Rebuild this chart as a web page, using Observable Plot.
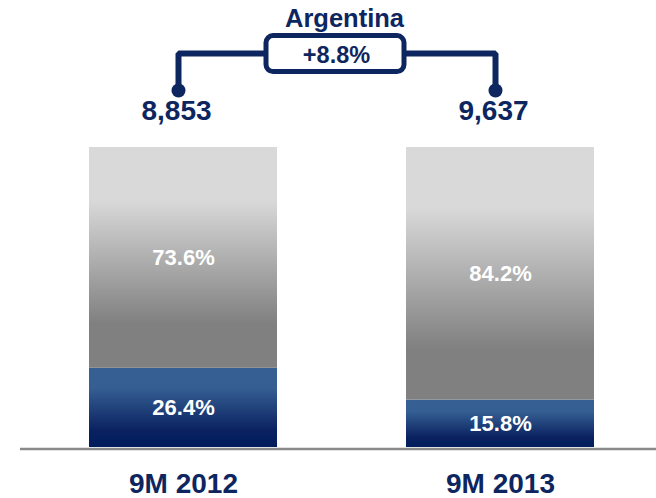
<!DOCTYPE html>
<html>
<head>
<meta charset="utf-8">
<script src="https://cdn.jsdelivr.net/npm/d3@7"></script>
<script src="https://cdn.jsdelivr.net/npm/@observablehq/plot@0.6"></script>
<style>
  html, body { margin: 0; padding: 0; background: #ffffff; }
</style>
</head>
<body>
<div id="chart"></div>
<script>
// ---- data ----
const periods = ["9M 2012", "9M 2013"];
const totals = [8853, 9637];
const lowerShare = [26.4, 15.8];   // blue segment (%)
const upperShare = [73.6, 84.2];   // gray segment (%)
const regionLabel = ["Argentina"];
const growthLabel = ["+8.8%"];

// ---- table built from the arrays ----
const rows = [];
periods.forEach((p, i) => {
  rows.push({period: p, segment: "lower", share: lowerShare[i]});
  rows.push({period: p, segment: "upper", share: upperShare[i]});
});
const totalRows = periods.map((p, i) => ({period: p, total: totals[i]}));

// ---- annotation layout (in y-scale units) ----
const yDot = 119;
const yBracket = 131.3;
const yTitle = 142.8;
const bracketPath = [
  {period: periods[0], y: yDot},
  {period: periods[0], y: yBracket},
  {period: periods[1], y: yBracket},
  {period: periods[1], y: yDot}
];

const navy = "#0e2660";
const font = "'Liberation Sans', Arial, Helvetica, sans-serif";

// rounded-rectangle symbol for the growth box
const roundedBox = {
  draw(ctx) {
    const w = 138, h = 36, r = 7;
    const x0 = -w / 2, y0 = -h / 2, x1 = w / 2, y1 = h / 2;
    ctx.moveTo(x0 + r, y0);
    ctx.lineTo(x1 - r, y0);
    ctx.arcTo(x1, y0, x1, y0 + r, r);
    ctx.lineTo(x1, y1 - r);
    ctx.arcTo(x1, y1, x1 - r, y1, r);
    ctx.lineTo(x0 + r, y1);
    ctx.arcTo(x0, y1, x0, y1 - r, r);
    ctx.lineTo(x0, y0 + r);
    ctx.arcTo(x0, y0, x0 + r, y0, r);
    ctx.closePath();
  }
};

const plot = Plot.plot({
  width: 656,
  height: 498,
  marginLeft: 20,
  marginRight: 0,
  marginTop: 0,
  marginBottom: 0,
  style: {fontFamily: font, background: "#ffffff"},
  x: {type: "band", domain: periods, range: [88, 594], paddingInner: 0.407, paddingOuter: 0, axis: null},
  y: {domain: [0, 100], range: [447, 147], axis: null},
  color: {type: "ordinal", domain: ["lower", "upper"], range: ["url(#gradLower)", "url(#gradUpper)"]},
  marks: [
    Plot.barY(rows, Plot.stackY({x: "period", y: "share", z: "segment", fill: "segment", order: null})),
    Plot.ruleY([0], {stroke: "#8a8a8a", strokeWidth: 2.5, dy: 1.5}),
    Plot.text(rows, Plot.stackY({
      x: "period", y: "share", z: "segment", order: null,
      text: d => d.share.toFixed(1) + "%",
      fill: "white", fontSize: 22, fontWeight: "bold", fontFamily: font
    })),
    // category labels
    Plot.text(periods, {x: d => d, y: () => 0, dy: 37, text: d => d,
      fill: navy, fontSize: 28, fontWeight: "bold", fontFamily: font}),
    // totals
    Plot.text(totalRows, {x: "period", y: () => 100, dy: -36, dx: -7, text: d => d3.format(",")(d.total),
      fill: navy, fontSize: 28, fontWeight: "bold", fontFamily: font}),
    // bracket
    Plot.line(bracketPath, {x: "period", y: "y", dx: -5, stroke: navy, strokeWidth: 6,
      strokeLinejoin: "miter", curve: "linear"}),
    Plot.dot(periods, {x: d => d, y: () => yDot, dx: -5, r: 7, fill: navy, stroke: null}),
    // growth box
    Plot.dot(growthLabel, {y: () => yBracket, dx: -3.5, symbol: roundedBox,
      fill: "white", stroke: navy, strokeWidth: 5}),
    Plot.text(growthLabel, {y: () => yBracket, dx: -2, dy: 2, text: d => d,
      fill: navy, fontSize: 23.5, fontWeight: "bold", fontFamily: font}),
    Plot.text(regionLabel, {y: () => yTitle, dx: 6, text: d => d,
      fill: navy, fontSize: 25.5, fontWeight: "bold", fontFamily: font})
  ]
});

// gradient definitions used by the bar fills
const defs = d3.select(plot).insert("defs", ":first-child");
const gU = defs.append("linearGradient").attr("id", "gradUpper")
  .attr("x1", 0).attr("y1", 0).attr("x2", 0).attr("y2", 1);
[[0, "#d9d9d9"], [0.24, "#d9d9d9"], [0.8, "#808080"], [1, "#808080"]]
  .forEach(([o, c]) => gU.append("stop").attr("offset", o).attr("stop-color", c));
const gL = defs.append("linearGradient").attr("id", "gradLower")
  .attr("x1", 0).attr("y1", 0).attr("x2", 0).attr("y2", 1);
[[0, "#366093"], [0.25, "#355f93"], [0.8, "#0a2160"], [1, "#001d5c"]]
  .forEach(([o, c]) => gL.append("stop").attr("offset", o).attr("stop-color", c));

document.getElementById("chart").appendChild(plot);
</script>
</body>
</html>
